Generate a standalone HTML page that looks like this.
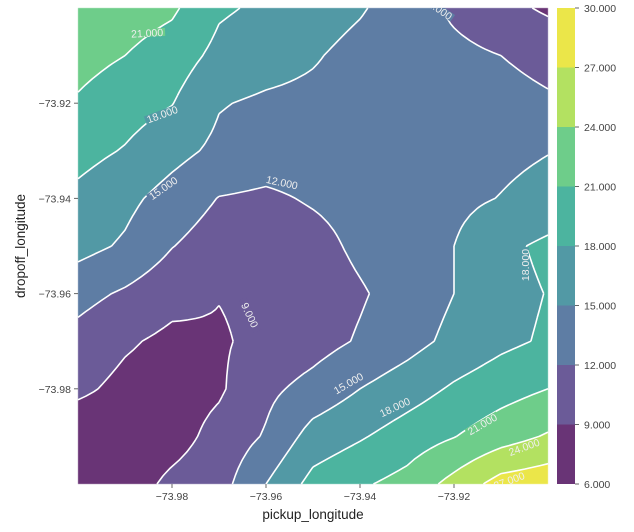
<!DOCTYPE html>
<html><head><meta charset="utf-8">
<style>
html,body{margin:0;padding:0;background:#fff;width:634px;height:532px;overflow:hidden;font-family:"Liberation Sans",sans-serif;}
#wrap{position:relative;width:634px;height:532px;}
canvas,svg{position:absolute;left:0;top:0;}
</style></head>
<body>
<div id="wrap">
<canvas id="cv" width="634" height="532"></canvas>
<svg id="sv" width="634" height="532"></svg>
</div>
<script>
// ---- data ----
const xLons = [-74.00,-73.99,-73.98,-73.97,-73.96,-73.95,-73.94,-73.93,-73.92,-73.91,-73.90];
const yLats = [-73.90,-73.91,-73.92,-73.93,-73.94,-73.95,-73.96,-73.97,-73.98,-73.99,-74.00];
const row0  = [23,22.5,21.5,18.4,17.5,16.5,15.3,13.5,11.5,10,8.5];
const row1  = [22,21,19.5,17.2,16.3,15.3,14,13,12.7,12.0,11.3];
const row2  = [20.7,19.3,18.1,15.2,14.5,14.2,13.8,13.5,13.2,12.8,12.3];
const row3  = [19,17.8,16,14.3,13.5,13.5,13.6,13.8,14,14.3,14.9];
const row4  = [17.3,15.8,13.8,11.9,11.5,12.3,13,13.7,14.3,15.1,16.0];
const row5  = [16,14.6,12.1,10.5,10.2,11,12.6,13.8,15,17.3,18.6];
const row6  = [13,11.6,10,9.1,9.6,10.4,11.7,13.2,15,17.0,18.1];
const row7  = [11,9.4,8.3,8.7,9.7,10.8,12.3,13.9,15.8,17.3,18.4];
const row8  = [9.6,8.2,7.6,8.6,11.3,13,15,16.6,18.4,19.8,21];
const row9  = [7,7,7.8,10,12.3,16.2,17.7,19.4,20.9,22.7,24.3];
const row10 = [6.5,7.5,9.7,10.8,15,19,20.6,22,25,28.2,29];
const levels = [6,9,12,15,18,21,24,27,30];
const xTicks = [-73.98,-73.96,-73.94,-73.92];
const yTicks = [-73.92,-73.94,-73.96,-73.98];
const labelTexts = ["21.000","18.000","15.000","12.000","12.000","9.000","18.000","15.000","18.000","21.000","24.000","27.000"];
const labelLon = [-73.9853,-73.9821,-73.9819,-73.9566,-73.9234,-73.9634,-73.9049,-73.9425,-73.9326,-73.9140,-73.9051,-73.9083];
const labelLat = [-73.9052,-73.9223,-73.9378,-73.9366,-73.9000,-73.9645,-73.9540,-73.9788,-73.9838,-73.9874,-73.9922,-73.9992];
const labelAng = [-3,-20,-35,12,35,65,-90,-30,-25,-30,-20,-20];
const colors = ["#693476","#6b5b98","#5e7da4","#5299a5","#4cb49f","#6ecd8a","#b3e161","#ebe649"];
const grid = [row0,row1,row2,row3,row4,row5,row6,row7,row8,row9,row10];

// ---- axes ----
const PL=78, PR=548, PT=8, PB=484;
const xMin=-74.0, xMax=-73.90, yMin=-74.0, yMax=-73.90;
function xS(v){return PL+(v-xMin)/(xMax-xMin)*(PR-PL);}
function yS(v){return PT+(yMax-v)/(yMax-yMin)*(PB-PT);}
function xInv(p){return xMin+(p-PL)/(PR-PL)*(xMax-xMin);}
function yInv(p){return yMax-(p-PT)/(PB-PT)*(yMax-yMin);}
const nx=xLons.length, ny=yLats.length;
function field(lon,lat){
  let gx=(lon-xLons[0])/(xLons[1]-xLons[0]);
  let gy=(lat-yLats[0])/(yLats[1]-yLats[0]);
  gx=Math.max(0,Math.min(nx-1.0001,gx)); gy=Math.max(0,Math.min(ny-1.0001,gy));
  const i=Math.floor(gx), j=Math.floor(gy), fx=gx-i, fy=gy-j;
  const a=grid[j][i], b=grid[j][i+1], c=grid[j+1][i], d=grid[j+1][i+1];
  return a*(1-fx)*(1-fy)+b*fx*(1-fy)+c*(1-fx)*fy+d*fx*fy;
}
function band(v){let k=0;for(let i=1;i<levels.length-1;i++){if(v>=levels[i])k=i;}return k;}
function hex(h){return [parseInt(h.substr(1,2),16),parseInt(h.substr(3,2),16),parseInt(h.substr(5,2),16)];}
const rgb=colors.map(hex);

// ---- fill ----
const cv=document.getElementById('cv'), ctx=cv.getContext('2d');
const img=ctx.createImageData(PR-PL,PB-PT);
for(let py=PT;py<PB;py++){for(let px=PL;px<PR;px++){
  const v=field(xInv(px+0.5),yInv(py+0.5)); const c=rgb[band(v)];
  const o=((py-PT)*(PR-PL)+(px-PL))*4; img.data[o]=c[0];img.data[o+1]=c[1];img.data[o+2]=c[2];img.data[o+3]=255;}}
ctx.putImageData(img,PL,PT);

// ---- contour lines (marching squares on refined grid) ----
const NS='http://www.w3.org/2000/svg';
const sv=document.getElementById('sv');
function mk(t,attrs,parent){const e=document.createElementNS(NS,t);for(const k in attrs)e.setAttribute(k,attrs[k]);(parent||sv).appendChild(e);return e;}
const lineG=mk('g',{stroke:'#fff','stroke-width':'1.6',fill:'none','stroke-linejoin':'round'});


const SUB=6, fnx=(nx-1)*SUB+1, fny=(ny-1)*SUB+1;
const F=[];
for(let j=0;j<fny;j++){F.push([]);for(let i=0;i<fnx;i++){
  const lon=xLons[0]+(xLons[1]-xLons[0])*i/SUB, lat=yLats[0]+(yLats[1]-yLats[0])*j/SUB;
  F[j].push(field(lon,lat));}}
function P(i,j){return [PL+(PR-PL)*i/(fnx-1), PT+(PB-PT)*j/(fny-1)];}
for(let L=1;L<levels.length-1;L++){
  const lv=levels[L]; let d='';
  for(let j=0;j<fny-1;j++)for(let i=0;i<fnx-1;i++){
    const a=F[j][i],b=F[j][i+1],c=F[j+1][i+1],e=F[j+1][i];
    const pts=[];
    const edge=(v1,v2,p1,p2)=>{if((v1<lv)!==(v2<lv)){const t=(lv-v1)/(v2-v1);pts.push([p1[0]+(p2[0]-p1[0])*t,p1[1]+(p2[1]-p1[1])*t]);}};
    const A=P(i,j),B=P(i+1,j),C=P(i+1,j+1),E=P(i,j+1);
    edge(a,b,A,B);edge(b,c,B,C);edge(c,e,C,E);edge(e,a,E,A);
    for(let k=0;k+1<pts.length;k+=2)d+='M'+pts[k][0].toFixed(1)+' '+pts[k][1].toFixed(1)+'L'+pts[k+1][0].toFixed(1)+' '+pts[k+1][1].toFixed(1);
  }
  const p=mk('path',{d:d},lineG);
  
  
}

// ---- contour labels ----
const clip=mk('clipPath',{id:'pc'}); mk('rect',{x:PL,y:PT,width:PR-PL,height:PB-PT},clip);
const labG=mk('g',{'clip-path':'url(#pc)'});


for(let k=0;k<labelTexts.length;k++){
  const x=xS(labelLon[k]), y=yS(labelLat[k]);
  const col=colors[band(field(labelLon[k],labelLat[k]))];
  const g=mk('g',{transform:'translate('+x.toFixed(1)+','+y.toFixed(1)+') rotate('+labelAng[k]+')'},labG);
  
  
  mk('rect',{x:-18,y:-4,width:36,height:8,fill:col},g);
  const t=mk('text',{x:0,y:4,'text-anchor':'middle','font-size':'10.5',fill:'#eeeeee'},g);
  t.textContent=labelTexts[k];
}

// ---- axes ticks & labels ----
const axG=mk('g',{'font-size':'10.5',fill:'#444'});


for(const v of xTicks){const x=xS(v);
  mk('line',{x1:x,x2:x,y1:PB,y2:PB+4,stroke:'#666','stroke-width':1},axG);
  const t=mk('text',{x:x,y:PB+16,'text-anchor':'middle'},axG); t.textContent='\u2212'+Math.abs(v).toFixed(2);
   }
for(const v of yTicks){const y=yS(v);
  mk('line',{x1:PL-4,x2:PL,y1:y,y2:y,stroke:'#666','stroke-width':1},axG);
  const t=mk('text',{x:PL-7,y:y+4,'text-anchor':'end'},axG); t.textContent='\u2212'+Math.abs(v).toFixed(2);
   }
const xl=mk('text',{x:(PL+PR)/2,y:519,'text-anchor':'middle','font-size':'13.5',fill:'#222'});
xl.textContent='pickup_longitude';
 
const yl=mk('text',{x:0,y:0,'text-anchor':'middle','font-size':'13.5',fill:'#222',transform:'translate(25,246) rotate(-90)'});
yl.textContent='dropoff_longitude';
 

// ---- colorbar ----
const CL=557, CR=575;
const cbG=mk('g',{});


function cS(v){return PB-(v-levels[0])/(levels[levels.length-1]-levels[0])*(PB-PT);}
for(let k=0;k<colors.length;k++){
  const r=mk('rect',{x:CL,y:cS(levels[k+1]),width:CR-CL,height:cS(levels[k])-cS(levels[k+1]),fill:colors[k]},cbG);
   }
for(const v of levels){const y=cS(v);
  mk('line',{x1:CR,x2:CR+4,y1:y,y2:y,stroke:'#666','stroke-width':1},cbG);
  const t=mk('text',{x:CR+9,y:y+4,'font-size':'10.5',fill:'#444'},cbG); t.textContent=v.toFixed(3);
   }
</script>
</body></html>
